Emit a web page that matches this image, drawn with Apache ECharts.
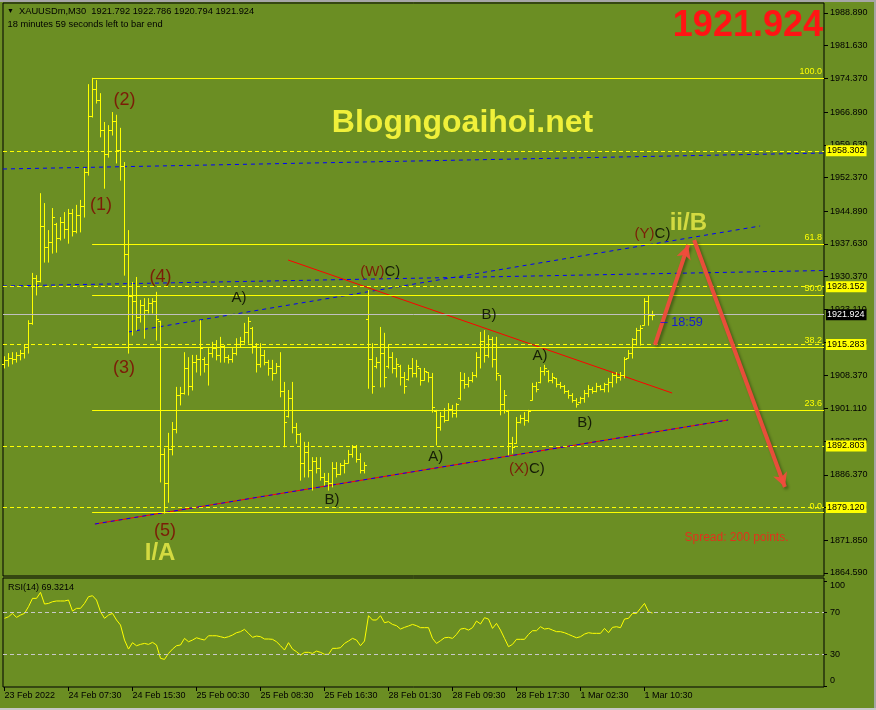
<!DOCTYPE html>
<html>
<head>
<meta charset="utf-8">
<script src="https://cdn.jsdelivr.net/npm/echarts@6/dist/echarts.min.js"></script>
<style>
html,body{margin:0;padding:0;background:#6b8e23;}
#chart{width:876px;height:710px;}
</style>
</head>
<body>
<div id="chart"></div>
<script>
// XAUUSDm M30 bars, one per slot: [open, high, low, close]
var bars = [
[1911.0,1912.7,1910.1,1911.8],[1911.8,1913.4,1910.5,1912.2],[1912.2,1913.6,1911.0,1912.0],[1912.0,1913.6,1911.4,1913.0],
[1913.0,1914.1,1911.9,1913.5],[1913.5,1915.2,1912.3,1914.8],[1914.8,1920.7,1913.4,1920.0],[1920.0,1931.2,1919.8,1930.0],
[1930.0,1930.7,1926.3,1929.5],[1929.5,1948.9,1929.2,1941.5],[1941.5,1946.7,1933.6,1937.0],[1937.0,1940.7,1933.6,1938.0],
[1938.0,1945.6,1935.6,1943.5],[1942.0,1942.3,1935.8,1939.0],[1939.0,1943.6,1938.5,1942.5],[1942.5,1944.7,1938.9,1941.0],
[1941.0,1945.4,1937.8,1944.5],[1944.5,1945.4,1939.4,1940.5],[1940.5,1946.3,1940.1,1944.0],[1944.0,1947.4,1940.3,1946.0],
[1946.0,1954.5,1943.6,1953.5],[1953.5,1973.1,1952.9,1966.0],[1966.0,1974.5,1965.8,1972.0],[1972.0,1974.0,1968.9,1969.5],
[1969.5,1971.1,1961.4,1963.0],[1963.0,1964.7,1950.0,1957.5],[1957.5,1964.0,1956.9,1963.0],[1963.0,1966.9,1961.8,1965.0],
[1965.0,1966.3,1955.6,1958.5],[1958.5,1963.4,1951.8,1955.0],[1955.0,1955.8,1930.7,1935.5],[1935.5,1940.7,1913.4,1926.0],
[1926.0,1929.2,1917.4,1925.0],[1925.0,1930.3,1918.5,1921.5],[1921.5,1925.2,1920.3,1924.0],[1924.0,1925.6,1916.7,1923.0],
[1923.0,1925.6,1922.3,1924.5],[1924.5,1925.6,1922.3,1925.0],[1925.0,1927.0,1916.3,1921.0],[1920.5,1920.6,1884.8,1891.0],
[1891.0,1892.3,1877.9,1884.5],[1884.5,1895.7,1880.3,1892.0],[1892.0,1898.1,1890.8,1896.5],[1896.5,1905.9,1895.7,1904.0],
[1904.0,1905.9,1901.9,1904.5],[1904.5,1913.6,1904.3,1910.0],[1910.0,1912.5,1904.1,1906.0],[1906.0,1913.0,1905.2,1911.5],
[1911.5,1913.0,1909.2,1912.0],[1912.0,1920.7,1908.5,1914.5],[1912.0,1912.5,1909.2,1911.0],[1911.0,1914.5,1906.3,1913.5],
[1913.5,1915.9,1912.5,1914.5],[1914.5,1916.3,1911.9,1913.0],[1913.0,1917.0,1911.4,1915.0],[1915.0,1915.2,1911.4,1912.5],
[1912.5,1913.0,1911.2,1912.0],[1912.0,1914.5,1911.4,1913.5],[1913.5,1916.7,1913.0,1915.5],[1915.5,1917.0,1914.8,1916.0],
[1916.0,1920.1,1915.6,1918.0],[1918.0,1921.4,1915.6,1920.5],[1919.0,1919.2,1913.4,1915.0],[1915.0,1915.6,1909.2,1911.0],
[1911.0,1915.6,1910.3,1913.0],[1913.0,1914.1,1910.8,1911.5],[1911.5,1911.9,1908.5,1910.0],[1910.0,1911.9,1907.4,1909.0],
[1909.0,1911.2,1909.0,1910.5],[1910.5,1913.6,1903.7,1905.0],[1905.0,1907.0,1892.6,1898.0],[1899.5,1905.2,1899.2,1903.5],
[1903.5,1907.0,1895.7,1897.0],[1897.0,1897.9,1893.4,1895.5],[1895.5,1895.7,1885.2,1889.0],[1889.0,1893.7,1885.9,1891.5],
[1891.5,1893.7,1885.9,1887.5],[1887.5,1890.3,1883.0,1889.5],[1889.5,1890.3,1886.8,1888.0],[1888.0,1890.3,1885.2,1886.0],
[1886.0,1886.8,1884.1,1885.0],[1885.0,1886.8,1883.0,1884.5],[1884.5,1889.2,1883.7,1888.0],[1888.0,1889.2,1885.9,1886.5],
[1886.5,1889.0,1886.4,1888.5],[1888.5,1889.7,1886.8,1889.0],[1889.0,1891.9,1889.0,1891.0],[1891.0,1893.0,1890.3,1892.5],
[1892.5,1893.0,1889.2,1890.0],[1890.0,1891.2,1886.8,1887.5],[1887.5,1889.2,1886.8,1888.5],[1921.0,1927.4,1905.6,1912.0],
[1912.0,1915.6,1904.5,1906.0],[1910.5,1912.5,1910.1,1911.5],[1911.5,1919.2,1905.9,1913.5],[1913.5,1917.9,1905.9,1908.0],
[1910.5,1915.2,1910.1,1912.5],[1912.5,1913.6,1909.0,1910.0],[1910.0,1912.3,1908.1,1911.0],[1910.5,1910.8,1906.3,1908.0],
[1908.0,1909.2,1904.5,1906.0],[1907.6,1910.8,1907.4,1910.0],[1910.0,1912.3,1908.1,1909.0],[1909.0,1911.9,1908.1,1910.5],
[1910.0,1910.1,1906.3,1907.5],[1907.5,1910.1,1907.4,1909.5],[1909.2,1909.2,1907.0,1908.0],[1908.0,1909.0,1900.3,1901.5],
[1900.5,1900.8,1893.0,1897.0],[1897.0,1900.3,1896.3,1899.5],[1899.5,1901.2,1898.1,1898.5],[1898.5,1902.3,1898.5,1901.0],
[1901.0,1901.9,1899.2,1900.0],[1900.0,1902.3,1899.2,1902.0],[1903.5,1909.2,1903.0,1907.5],[1907.5,1909.0,1905.6,1906.5],
[1906.5,1908.1,1905.9,1907.5],[1907.5,1909.2,1907.0,1908.5],[1908.5,1913.6,1908.1,1912.5],[1912.5,1918.1,1910.1,1916.0],
[1916.0,1918.5,1911.4,1913.0],[1913.0,1917.4,1912.5,1916.5],[1916.5,1917.0,1910.3,1912.0],[1912.0,1917.0,1907.4,1909.0],
[1908.5,1908.5,1899.7,1902.0],[1902.0,1905.2,1900.1,1904.0],[1900.5,1900.8,1890.8,1893.5],[1893.5,1894.8,1891.2,1892.5],
[1893.5,1899.2,1893.4,1898.0],[1898.0,1899.7,1897.9,1899.0],[1899.0,1900.3,1897.4,1898.5],[1898.5,1900.8,1898.1,1900.5],
[1903.0,1906.8,1903.0,1906.0],[1906.0,1907.0,1904.8,1905.5],[1907.0,1910.3,1906.8,1909.5],[1909.5,1910.8,1908.5,1910.0],
[1909.5,1909.6,1907.0,1907.5],[1907.5,1909.0,1906.8,1908.0],[1907.9,1907.9,1905.9,1906.5],[1906.5,1907.0,1905.6,1906.0],
[1906.0,1906.3,1904.5,1905.0],[1905.0,1905.2,1903.4,1904.0],[1904.0,1904.5,1902.5,1903.0],[1903.0,1903.4,1901.4,1902.0],
[1902.5,1903.7,1902.3,1903.5],[1903.5,1905.2,1902.5,1904.5],[1904.5,1906.3,1903.7,1905.5],[1905.5,1905.9,1904.5,1905.0],
[1905.0,1906.8,1904.8,1906.0],[1906.0,1906.3,1905.2,1905.5],[1905.5,1906.8,1904.8,1906.5],[1906.5,1907.9,1904.8,1907.0],
[1907.0,1909.0,1905.9,1908.5],[1908.5,1909.2,1906.8,1908.0],[1908.0,1909.2,1907.4,1908.5],[1908.5,1912.5,1907.9,1912.0],
[1912.3,1914.1,1912.3,1913.5],[1913.5,1916.7,1912.3,1916.5],[1916.5,1919.0,1915.2,1918.5],[1918.5,1919.6,1915.2,1919.0],
[1919.6,1925.6,1919.6,1925.0],[1925.0,1926.3,1919.6,1921.8],[1921.792,1922.786,1920.794,1921.924]
];

// RSI(14), one value per bar
var rsi = [
64.3,65.8,69.0,65.2,67.4,69.0,75.4,83.3,83.3,89.0,77.9,78.5,80.1,80.8,80.8,80.8,81.7,71.2,73.8,73.8,
78.5,84.9,85.8,81.7,70.6,64.3,67.4,69.0,62.7,57.9,43.6,35.0,41.1,38.2,39.5,40.4,39.5,41.4,38.9,26.2,
25.2,30.9,35.0,38.2,38.9,45.2,42.0,43.6,45.8,44.6,43.6,47.7,47.7,47.7,46.8,45.8,46.8,48.4,50.6,51.6,
53.8,50.0,46.2,47.4,46.8,44.6,44.6,44.3,42.0,38.2,34.1,41.1,35.0,32.5,29.3,31.9,31.9,30.9,33.1,31.9,
30.0,30.0,35.7,35.7,36.3,40.4,42.7,45.2,43.6,38.2,42.7,66.8,62.7,62.7,66.8,60.1,61.1,58.5,57.3,54.1,
55.7,57.0,58.5,57.3,55.4,55.4,55.4,45.2,40.4,43.0,45.8,46.2,45.2,49.0,54.1,54.7,53.1,55.4,61.7,58.9,
64.9,63.6,54.7,59.5,53.1,45.2,37.3,39.5,44.3,44.3,44.3,49.0,52.5,52.5,56.3,54.1,54.7,53.1,51.6,51.6,
50.6,49.0,47.4,45.8,46.8,49.3,50.6,50.0,50.0,50.0,54.7,50.6,55.7,56.3,55.4,63.6,64.3,69.0,69.0,73.8,
78.5,70.6,69.32
];

var priceTicks = [1988.890,1981.630,1974.370,1966.890,1959.630,1952.370,1944.890,1937.630,1930.370,
  1923.110,1915.850,1908.370,1901.110,1893.850,1886.370,1879.110,1871.850,1864.590];
var rsiTicks = [0, 30, 70, 100];
var timeTickIdx = [0, 16, 32, 48, 64, 80, 96, 112, 128, 144, 160];
var timeTickText = ['23 Feb 2022','24 Feb 07:30','24 Feb 15:30','25 Feb 00:30','25 Feb 08:30',
  '25 Feb 16:30','28 Feb 01:30','28 Feb 09:30','28 Feb 17:30','1 Mar 02:30','1 Mar 10:30'];

var fibStart = 21.9;
var fibNames = ['100.0','61.8','50.0','38.2','23.6','0.0'];
var fibPrices = [1974.4,1937.6,1926.2,1914.8,1900.75,1878.0];
var levelPrices = [1958.302,1928.152,1915.283,1892.803,1879.120];
var lastPrice = 1921.924;

var upperChannel = [[-0.375,1954.26],[204.875,1957.81]];
var midChannel = [[-0.375,1928.29],[204.875,1931.73]];
var wedgeTop = [[30.9,1918.08],[188.9,1941.61]];
var wedgeBottom = [[22.6,1875.46],[180.9,1898.55]];
var redTrend = [[70.9,1934.06],[166.9,1904.54]];
var arrowUp = [[162.6,1915.2],[170.9,1937.4]];
var arrowDown = [[172.4,1938.5],[195.1,1883.67]];

// wave counts: [index, price, text]
var waveNumbers = [[24.1,1946.3,'(1)'],[30.0,1969.6,'(2)'],[29.9,1910.0,'(3)'],[39.0,1930.2,'(4)'],[40.1,1873.9,'(5)']];
// [index, price, maroon part, black part]
var waveLetters = [
  [58.6,1925.6,'','A)'],[81.9,1880.9,'','B)'],[93.95,1931.4,'(W)','C)'],
  [107.8,1890.4,'','A)'],[121.1,1921.8,'','B)'],[130.6,1887.8,'(X)','C)'],
  [133.9,1912.8,'','A)'],[145.05,1897.9,'','B)'],[162.0,1939.8,'(Y)','C)']
];
var degreeLabels = [[38.9,1869.0,'I/A'],[170.95,1942.3,'ii/B']];
var timerLabel = [[163.9,1920.2,'\u2013 18:59']];
var spreadLabel = [[183.0,1872.35,'Spread: 200 points.']];
var rsiName = 'RSI(14) 69.3214';

var FONT = "'Liberation Sans', Arial, sans-serif";

var barData = bars.map(function (b, i) { return [i, b[0], b[1], b[2], b[3]]; });
var rsiData = rsi.map(function (v, i) { return [i, v]; });

function renderBar(params, api) {
  var x = api.coord([api.value(0), api.value(2)])[0];
  var h = api.coord([0, api.value(2)])[1];
  var l = api.coord([0, api.value(3)])[1];
  var o = Math.round(api.coord([0, api.value(1)])[1]) + 0.5;
  var c = Math.round(api.coord([0, api.value(4)])[1]) + 0.5;
  var st = { stroke: '#ffff00', lineWidth: 1 };
  return {
    type: 'group',
    children: [
      { type: 'line', shape: { x1: x, y1: h, x2: x, y2: l + 0.5 }, style: st },
      { type: 'line', shape: { x1: x - 2.5, y1: o, x2: x, y2: o }, style: st },
      { type: 'line', shape: { x1: x, y1: c, x2: x + 2.5, y2: c }, style: st }
    ]
  };
}

var markItems = [];
levelPrices.forEach(function (v) {
  markItems.push({
    yAxis: v,
    lineStyle: { color: '#ffff00', width: 1, type: [4, 3] },
    label: { show: true, position: 'end', distance: 2, formatter: v.toFixed(3), backgroundColor: '#ffff00',
      color: '#000', fontSize: 9, fontFamily: FONT, lineHeight: 10, padding: [1, 2, 0, 1] }
  });
});
markItems.push({
  yAxis: lastPrice,
  lineStyle: { color: '#c0c0c0', width: 1, type: 'solid' },
  label: { show: true, position: 'end', distance: 2, formatter: lastPrice.toFixed(3), backgroundColor: '#000',
    color: '#fff', fontSize: 9, fontFamily: FONT, lineHeight: 10, padding: [1, 2, 0, 1] }
});
fibPrices.forEach(function (v, k) {
  markItems.push([
    { coord: [fibStart, v], lineStyle: { color: '#ffff00', width: 1, type: 'solid' },
      label: { show: true, position: 'insideEndTop', distance: 2, formatter: fibNames[k], color: '#ffff00',
        fontSize: 9, fontFamily: FONT } },
    { coord: [204.875, v] }
  ]);
});

var arrowStyle = { color: '#f04c3c', width: 4, type: 'solid', opacity: 0.95,
  shadowColor: 'rgba(0,0,0,0.35)', shadowBlur: 3, shadowOffsetX: 2, shadowOffsetY: 2 };

var option = {
  animation: false,
  backgroundColor: '#6b8e23',
  graphic: [
    { type: 'rect', shape: { x: 0, y: 0, width: 876, height: 2 }, style: { fill: '#a6a6a6' } },
    { type: 'rect', shape: { x: 874, y: 0, width: 2, height: 710 }, style: { fill: '#a6a6a6' } },
    { type: 'rect', shape: { x: 0, y: 708, width: 876, height: 2 }, style: { fill: '#c8c8c8' } },
    { type: 'text', x: 7, y: 11.5, style: { text: '\u25BC', fontSize: 7, fill: '#000', verticalAlign: 'middle' } },
    { type: 'text', x: 19, y: 11.7, style: { text: 'XAUUSDm,M30  1921.792 1922.786 1920.794 1921.924',
      fontSize: 9.3, fontFamily: FONT, fill: '#000', verticalAlign: 'middle' } },
    { type: 'text', x: 7.5, y: 24.3, style: { text: '18 minutes 59 seconds left to bar end',
      fontSize: 9.3, fontFamily: FONT, fill: '#000', verticalAlign: 'middle' } },
    { type: 'text', x: 823, y: 26.5, style: { text: '1921.924', fontSize: 36, fontWeight: 'bold',
      fontFamily: FONT, fill: '#ff1414', align: 'right', verticalAlign: 'middle' } },
    { type: 'text', x: 462.5, y: 123, style: { text: 'Blogngoaihoi.net', fontSize: 32, fontWeight: 'bold',
      fontFamily: FONT, fill: '#f0f03a', align: 'center', verticalAlign: 'middle' } },
    { type: 'text', x: 8, y: 587.7, style: { text: rsiName, fontSize: 9, fontFamily: FONT, fill: '#000',
      verticalAlign: 'middle' } }
  ],
  grid: [
    { left: 3, top: 3, right: 52, height: 573, show: true, borderColor: '#000', borderWidth: 1, backgroundColor: 'transparent' },
    { left: 3, top: 578, right: 52, height: 109, show: true, borderColor: '#000', borderWidth: 1, backgroundColor: 'transparent' }
  ],
  xAxis: [
    { type: 'value', gridIndex: 0, min: -0.375, max: 204.875, show: false, axisLine: { onZero: false } },
    {
      type: 'value', gridIndex: 1, min: -0.375, max: 204.875,
      splitLine: { show: false }, axisLine: { show: false, onZero: false },
      axisTick: { show: true, customValues: timeTickIdx, length: 4, lineStyle: { color: '#000' } },
      axisLabel: {
        customValues: timeTickIdx, align: 'left', margin: 4, fontSize: 9, fontFamily: FONT, color: '#000',
        formatter: function (v) { var k = timeTickIdx.indexOf(Math.round(v)); return k < 0 ? '' : timeTickText[k]; }
      }
    }
  ],
  yAxis: [
    {
      type: 'value', gridIndex: 0, position: 'right', min: 1863.92, max: 1991.11,
      splitLine: { show: false }, axisLine: { show: false, onZero: false },
      axisTick: { show: true, customValues: priceTicks, length: 4, lineStyle: { color: '#000' } },
      axisLabel: { customValues: priceTicks, margin: 6, fontSize: 9, fontFamily: FONT, color: '#000',
        formatter: function (v) { return v.toFixed(3); } }
    },
    {
      type: 'value', gridIndex: 1, position: 'right', min: -1.1, max: 102.7,
      splitLine: { show: false }, axisLine: { show: false, onZero: false },
      axisTick: { show: true, customValues: rsiTicks, length: 3, lineStyle: { color: '#000' } },
      axisLabel: {
        customValues: rsiTicks, margin: 6, fontSize: 9, fontFamily: FONT, color: '#000',
        formatter: function (v) { return v === 100 ? '{a|100}' : (v === 0 ? '{b|0}' : String(v)); },
        rich: { a: { padding: [10, 0, 0, 0], fontSize: 9, fontFamily: FONT }, b: { padding: [0, 0, 10, 0], fontSize: 9, fontFamily: FONT } }
      }
    }
  ],
  series: [
    {
      type: 'line', data: upperChannel, symbol: 'none', clip: false, z: 1,
      lineStyle: { color: '#0000ff', width: 1, type: [4, 4] },
      markLine: { silent: true, animation: false, symbol: ['none', 'none'], label: { show: false }, data: markItems }
    },
    { type: 'line', data: midChannel, symbol: 'none', z: 1, lineStyle: { color: '#0000ff', width: 1, type: [4, 4] } },
    { type: 'line', data: wedgeTop, symbol: 'none', z: 1, lineStyle: { color: '#0000ff', width: 1, type: [4, 4] } },
    { type: 'line', data: wedgeBottom, symbol: 'none', z: 1, lineStyle: { color: '#ff0000', width: 1 } },
    { type: 'line', data: wedgeBottom, symbol: 'none', z: 1, lineStyle: { color: '#0000ff', width: 1, type: [4, 4] } },
    {
      type: 'line', data: redTrend, symbol: 'none', clip: false, z: 1, lineStyle: { color: '#ff0000', width: 1 },
      markLine: {
        silent: true, animation: false, label: { show: false }, symbolSize: [11, 14],
        data: [
          [{ coord: arrowUp[0], symbol: 'none', lineStyle: arrowStyle }, { coord: arrowUp[1], symbol: 'arrow' }],
          [{ coord: arrowDown[0], symbol: 'none', lineStyle: arrowStyle }, { coord: arrowDown[1], symbol: 'arrow' }]
        ]
      }
    },
    {
      type: 'custom', data: barData, renderItem: renderBar, z: 3,
      encode: { x: 0, y: [1, 2, 3, 4] }
    },
    {
      type: 'scatter', data: waveNumbers, symbolSize: 1, itemStyle: { color: 'transparent' }, z: 5,
      label: { show: true, position: 'inside', formatter: function (p) { return p.data[2]; },
        color: '#800000', fontSize: 18, fontFamily: FONT }
    },
    {
      type: 'scatter', data: waveLetters, symbolSize: 1, itemStyle: { color: 'transparent' }, z: 5,
      label: {
        show: true, position: 'inside',
        formatter: function (p) {
          var d = p.data;
          return (d[2] ? '{r|' + d[2] + '}' : '') + (d[3] ? '{k|' + d[3] + '}' : '');
        },
        rich: { r: { color: '#800000', fontSize: 15, fontFamily: FONT }, k: { color: '#000', fontSize: 15, fontFamily: FONT } }
      }
    },
    {
      type: 'scatter', data: degreeLabels, symbolSize: 1, itemStyle: { color: 'transparent' }, z: 5,
      label: { show: true, position: 'inside', formatter: function (p) { return p.data[2]; },
        color: '#eeee48', fontSize: 24, fontWeight: 'bold', fontFamily: FONT }
    },
    {
      type: 'scatter', data: timerLabel, symbolSize: 1, itemStyle: { color: 'transparent' }, z: 5,
      label: { show: true, position: 'right', distance: 0, formatter: function (p) { return p.data[2]; },
        color: '#0000ff', fontSize: 12.7, fontFamily: FONT }
    },
    {
      type: 'scatter', data: spreadLabel, symbolSize: 1, itemStyle: { color: 'transparent' }, z: 5,
      label: { show: true, position: 'inside', formatter: function (p) { return p.data[2]; },
        color: '#ff1a1a', fontSize: 12, fontFamily: FONT }
    },
    {
      type: 'line', xAxisIndex: 1, yAxisIndex: 1, data: rsiData, symbol: 'none', z: 3,
      lineStyle: { color: '#ffff00', width: 1 },
      markLine: {
        silent: true, animation: false, symbol: ['none', 'none'], label: { show: false },
        lineStyle: { color: '#c8c8c8', width: 1, type: [4, 3] },
        data: [{ yAxis: 70 }, { yAxis: 30 }]
      }
    }
  ]
};

var chart = echarts.init(document.getElementById('chart'));
chart.setOption(option);
</script>
</body>
</html>
